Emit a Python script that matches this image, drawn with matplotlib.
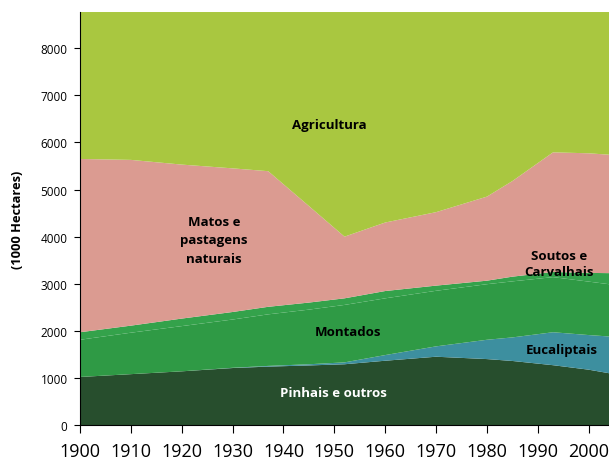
import matplotlib.pyplot as plt

plt.rcParams['font.family'] = ['Open Sans', 'DejaVu Sans']

anos = [1900, 1910, 1920, 1930, 1937, 1945, 1952, 1960, 1970, 1980, 1985, 1993, 2000, 2004]

# area of each class (1000 ha)
pinhais     = [1020, 1080, 1140, 1210, 1240, 1265, 1290, 1365, 1450, 1400, 1360, 1270, 1175, 1100]
eucaliptais = [0, 0, 0, 5, 15, 25, 40, 120, 220, 410, 500, 700, 735, 780]
montados    = [790, 880, 960, 1025, 1095, 1160, 1220, 1205, 1180, 1180, 1190, 1170, 1135, 1110]
soutos      = [160, 150, 160, 160, 160, 150, 140, 155, 110, 75, 100, 110, 185, 235]
matos       = [3680, 3520, 3270, 3050, 2880, 2050, 1310, 1455, 1560, 1785, 2030, 2540, 2540, 2515]
agricultura = [3120, 3140, 3240, 3320, 3380, 4120, 4770, 4470, 4250, 3920, 3590, 2980, 3000, 3030]

nomes = ["Pinhais e outros", "Eucaliptais", "Montados", "Soutos e Carvalhais",
         "Matos e pastagens naturais", "Agricultura"]
cores = ["#274E2D", "#3D8F9F", "#2F9A45", "#34A24B", "#DB9B91", "#A9C740"]

fig = plt.figure(figsize=(6.09, 4.6), dpi=100)
ax = fig.add_axes([0.1314, 0.0739, 0.8686, 0.8978])

ax.stackplot(anos, pinhais, eucaliptais, montados, soutos, matos, agricultura,
             colors=cores, labels=nomes, linewidth=0)

ax.set_xlim(1900, 2004)
ax.set_ylim(0, 8770)
ax.set_xticks(range(1900, 2001, 10))
ax.set_yticks(range(0, 8001, 1000))
ax.tick_params(axis='x', labelsize=13, length=6, pad=6)
ax.tick_params(axis='y', labelsize=8.5, length=4, pad=5)
ax.spines['top'].set_visible(False)
ax.spines['right'].set_visible(False)
ax.set_ylabel("(1000 Hectares)", fontsize=9.3, fontweight='bold', labelpad=12)

kw = dict(ha='center', va='center', fontsize=9.5, fontweight='bold')
ax.text(1949, 6390, "Agricultura", **kw)
ax.text(1926.3, 3930, "Matos e\npastagens\nnaturais", linespacing=1.55, **kw)
ax.text(1994.1, 3440, "Soutos e\nCarvalhais", linespacing=1.3, **kw)
ax.text(1952.6, 1996, "Montados", **kw)
ax.text(1994.8, 1614, "Eucaliptais", **kw)
ax.text(1949.8, 700, "Pinhais e outros", color='white', **kw)

fig.savefig("out.png", dpi=100)
